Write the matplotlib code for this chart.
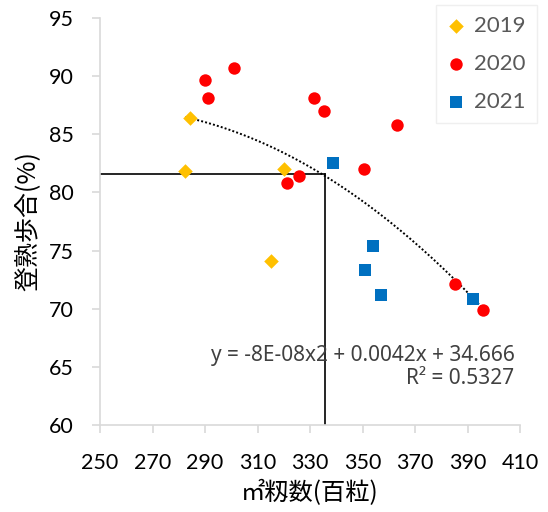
import numpy as np
import matplotlib
matplotlib.use('Agg')
import matplotlib.pyplot as plt

# data
x2019 = [284.1, 282.5, 319.9, 315.0]
y2019 = [86.4, 81.85, 82.0, 74.1]
x2020 = [289.9, 301.2, 291.2, 331.6, 335.5, 363.2, 350.5, 321.2, 325.7, 385.1, 395.7]
y2020 = [89.7, 90.7, 88.1, 88.1, 87.0, 85.8, 82.0, 80.8, 81.4, 72.1, 69.9]
x2021 = [338.6, 354.1, 351.1, 357.2, 392.0]
y2021 = [82.5, 75.35, 73.3, 71.2, 70.8]
guide_x = 335.8
guide_y = 81.6
eq_text = 'y = -8E-08x2 + 0.0042x + 34.666\nR² = 0.5327'

plt.rcParams['font.family'] = ['Lato', 'Noto Sans CJK JP', 'DejaVu Sans']
cjk = ['Noto Sans CJK JP', 'DejaVu Sans']

fig = plt.figure(figsize=(5.48, 5.12), dpi=100)
ax = fig.add_axes([0.1825, 0.17, 0.7665, 0.795])

# trendline over all points
xs = np.array(x2019 + x2020 + x2021)
ys = np.array(y2019 + y2020 + y2021)
coef = np.polyfit(xs, ys, 2)
xt = np.linspace(xs.min(), xs.max(), 200)
ax.plot(xt, np.polyval(coef, xt), color='black', lw=1.4, ls=(0, (1, 1.1)), zorder=2)

# guide lines
ax.plot([250, guide_x], [guide_y, guide_y], color='black', lw=1.2, zorder=1)
ax.plot([guide_x, guide_x], [60, guide_y], color='black', lw=1.2, zorder=1)

ax.scatter(x2019, y2019, marker='D', s=55, color='#FFC000', label='2019', zorder=3, linewidths=0)
ax.scatter(x2020, y2020, marker='o', s=80, color='#FF0000', label='2020', zorder=3, linewidths=0)
ax.scatter(x2021, y2021, marker='s', s=80, color='#0070C0', label='2021', zorder=3, linewidths=0)

ax.set_xlim(250, 410)
ax.set_ylim(60, 95)
ax.set_xticks(np.arange(250, 411, 20))
ax.set_yticks(np.arange(60, 96, 5))
for s in ['top', 'right']:
    ax.spines[s].set_visible(False)
for s in ['left', 'bottom']:
    ax.spines[s].set_color('#d9d9d9')
    ax.spines[s].set_linewidth(1.2)
ax.tick_params(colors='#d9d9d9', labelcolor='black', labelsize=15.5, length=6, width=1.2)
ax.tick_params(axis='y', pad=13)
ax.tick_params(axis='x', pad=14)

ax.set_xlabel('㎡籾数(百粒)', fontsize=17.5, family=cjk, labelpad=5)
ax.set_ylabel('登熟歩合(%)', fontsize=18, family=cjk, labelpad=6)

ax.text(407.9, 65.0, eq_text, ha='right', va='center', fontsize=15, color='#404040',
        linespacing=1.15, family=['Noto Sans', 'DejaVu Sans'])

leg = ax.legend(loc='upper right', bbox_to_anchor=(1.04, 1.032), borderaxespad=0,
                fontsize=16, frameon=True, fancybox=False, edgecolor='#ebebeb',
                labelcolor='#595959', handletextpad=0.4, borderpad=0.5,
                labelspacing=0.8, handlelength=0.8)

fig.savefig('out.png', dpi=100)
